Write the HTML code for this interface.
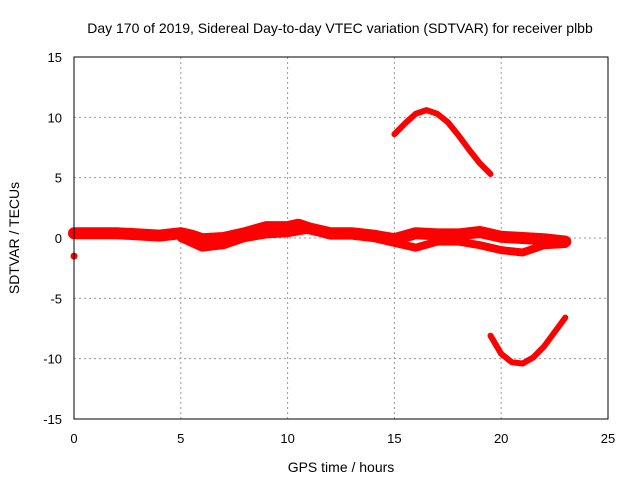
<!DOCTYPE html>
<html><head><meta charset="utf-8"><style>
body{margin:0;background:#fff}
svg{display:block;font-family:"Liberation Sans",sans-serif;font-size:13px}
</style></head><body>
<svg id="c" width="640" height="480">
<rect width="640" height="480" fill="#fff"/>
<text x="340" y="33" text-anchor="middle" font-size="14">Day 170 of 2019, Sidereal Day-to-day VTEC variation (SDTVAR) for receiver plbb</text>
<text x="341" y="472" text-anchor="middle" font-size="14">GPS time / hours</text>
<text transform="translate(19,238) rotate(-90)" text-anchor="middle" font-size="14">SDTVAR / TECUs</text>
<g id="grid"></g><g id="marks"></g>
<rect x="74" y="57" width="534" height="362" fill="none" stroke="#000"/>
</svg>
<script>
const xTicks=[0,5,10,15,20,25];
const yTicks=[-15,-10,-5,0,5,10,15];
const bandUpperX=[0,1,2,3,4,5,5.5,6,7,8,9,10,10.5,11,12,13,14,15,16,17,18,19,19.5,20,21,22,23];
const bandUpperY=[0.4,0.4,0.4,0.3,0.2,0.4,0.2,-0.1,0.0,0.4,0.9,0.9,1.1,0.8,0.4,0.4,0.2,-0.1,0.4,0.3,0.3,0.5,0.3,0.1,0.0,-0.1,-0.3];
const bandLowerX=[5,6,7,8,9,10,11,12,13,14,15,16,17,18,19,20,21,22,23];
const bandLowerY=[0.0,-0.8,-0.6,0.0,0.3,0.4,0.7,0.2,0.2,0.0,-0.4,-0.8,-0.3,-0.3,-0.6,-1.0,-1.2,-0.6,-0.5];
const arcTopX=[15,15.5,16,16.5,17,17.5,18,18.5,19,19.5];
const arcTopY=[8.6,9.5,10.3,10.6,10.3,9.6,8.5,7.3,6.2,5.3];
const arcBotX=[19.5,20,20.5,21,21.5,22,22.5,23];
const arcBotY=[-8.1,-9.6,-10.3,-10.4,-9.9,-9.0,-7.8,-6.6];
const outlierX=[0];
const outlierY=[-1.5];
const X0=74,X1=608,Y0=419,Y1=57;
const sx=v=>X0+(v-0)/(25-0)*(X1-X0);
const sy=v=>Y0-(v+15)/30*(Y0-Y1);
const NS='http://www.w3.org/2000/svg';
const grid=document.getElementById('grid'),marks=document.getElementById('marks');
function mk(tag,attrs,parent){const e=document.createElementNS(NS,tag);for(const k in attrs)e.setAttribute(k,attrs[k]);parent.appendChild(e);return e;}
xTicks.forEach(t=>{
  const x=sx(t);
  if(t>0&&t<25){const l=mk('line',{x1:x,x2:x,y1:Y1,y2:Y0,stroke:'#999','stroke-dasharray':'2,3'},grid);
  
  }
  const tx=mk('text',{x:x,y:443,'text-anchor':'middle'},grid);tx.textContent=t;
  
  
});
yTicks.forEach(t=>{
  const y=sy(t);
  if(t>-15&&t<15){const l=mk('line',{x1:X0,x2:X1,y1:y,y2:y,stroke:'#999','stroke-dasharray':'2,3'},grid);
  
  }
  const tx=mk('text',{x:62,y:y+5,'text-anchor':'end'},grid);tx.textContent=t;
  
  
});
function series(xs,ys,w,name){
  const d=xs.map((x,i)=>(i?'L':'M')+sx(x).toFixed(1)+','+sy(ys[i]).toFixed(1)).join('');
  const p=mk('path',{d:d,fill:'none',stroke:'#f00','stroke-width':w,'stroke-linejoin':'round','stroke-linecap':'round'},marks);
  
  
}
series(bandUpperX,bandUpperY,12,'series-band-upper');
series(bandLowerX,bandLowerY,8,'series-band-lower');
series(arcTopX,arcTopY,6,'series-arc-top');
series(arcBotX,arcBotY,6,'series-arc-bottom');
outlierX.forEach((x,i)=>{
  const c=mk('circle',{cx:sx(x),cy:sy(outlierY[i]),r:3.5,fill:'#f00'},marks);
  
  
});
</script>
</body></html>
